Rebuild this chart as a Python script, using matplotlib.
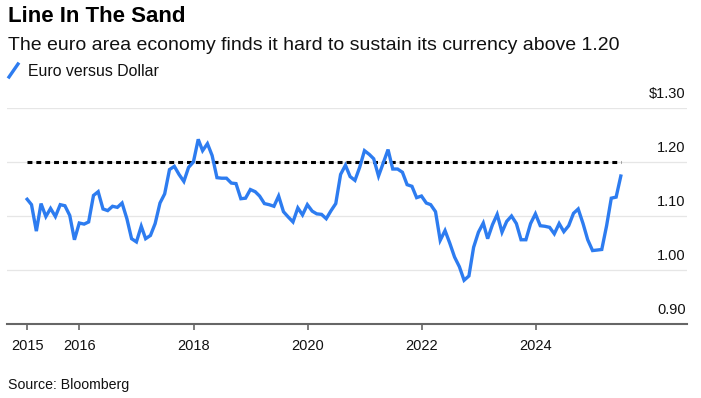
import pandas as pd
import matplotlib
matplotlib.use("Agg")
import matplotlib.pyplot as plt
from matplotlib.lines import Line2D

plt.rcParams['font.family'] = ['Liberation Sans', 'DejaVu Sans']

# month-end EUR/USD, Jan 2015 .. Jun 2025
eurusd = [
    1.131, 1.121, 1.072, 1.123, 1.099, 1.114, 1.099, 1.121, 1.119, 1.101, 1.056, 1.087,  # 2015
    1.085, 1.089, 1.138, 1.145, 1.113, 1.110, 1.118, 1.116, 1.124, 1.095, 1.058, 1.052,  # 2016
    1.081, 1.058, 1.064, 1.086, 1.124, 1.141, 1.186, 1.192, 1.177, 1.164, 1.190, 1.200,  # 2017
    1.242, 1.221, 1.234, 1.212, 1.171, 1.170, 1.170, 1.161, 1.160, 1.132, 1.133, 1.149,  # 2018
    1.145, 1.137, 1.123, 1.121, 1.118, 1.137, 1.108, 1.098, 1.089, 1.115, 1.102, 1.121,  # 2019
    1.109, 1.104, 1.103, 1.095, 1.110, 1.123, 1.177, 1.194, 1.173, 1.166, 1.190, 1.221,  # 2020
    1.214, 1.206, 1.174, 1.198, 1.223, 1.187, 1.187, 1.181, 1.158, 1.155, 1.134, 1.137,  # 2021
    1.124, 1.121, 1.108, 1.055, 1.073, 1.050, 1.024, 1.006, 0.981, 0.989, 1.042, 1.070,  # 2022
    1.087, 1.058, 1.084, 1.103, 1.070, 1.090, 1.100, 1.086, 1.056, 1.056, 1.086, 1.104,  # 2023
    1.082, 1.081, 1.079, 1.067, 1.086, 1.071, 1.082, 1.105, 1.113, 1.086, 1.056, 1.036,  # 2024
    1.037, 1.038, 1.082, 1.133, 1.135, 1.174,                                            # 2025
]
dates = pd.date_range('2015-01-01', periods=len(eurusd), freq='MS') + pd.offsets.MonthEnd(0)

threshold = 1.20
y_levels = [0.90, 1.00, 1.10, 1.20, 1.30]
y_labels = ['0.90', '1.00', '1.10', '1.20', '\\$1.30']
x_years = ['2016-01-01', '2018-01-01', '2020-01-01', '2022-01-01', '2024-01-01']
x_labels = ['2015', '2016', '2018', '2020', '2022', '2024']

blue = '#2d7cf0'
W, H = 701, 398

fig = plt.figure(figsize=(W / 100, H / 100), dpi=100)
ax = fig.add_axes([7 / W, 1 - 324 / H, 680 / W, 216 / H])

# light grid + right side labels sitting above the lines
for yv, lab in zip(y_levels, y_labels):
    if yv > y_levels[0]:
        ax.axhline(yv, color='#e6e6e6', lw=0.9, zorder=0)
    ax.annotate(lab, xy=(1, yv), xycoords=('axes fraction', 'data'),
                xytext=(-1, 7), textcoords='offset points',
                ha='right', va='baseline', fontsize=10.5, color='#111111',
                annotation_clip=False)

# the 1.20 "line in the sand"
ax.hlines(threshold, dates[0], dates[-1], colors='black', lw=2.2,
          linestyles=(0, (1.6, 1.3)), zorder=2)
ax.plot(dates, eurusd, color=blue, lw=2.4, solid_joinstyle='miter', zorder=3)

ax.set_xlim(pd.Timestamp('2014-09-24'), pd.Timestamp('2026-08-28'))
ax.set_ylim(0.90, 1.30)
ax.set_yticks([])
ax.set_xticks([dates[0]] + [pd.Timestamp(d) for d in x_years])
ax.set_xticklabels(x_labels)
ax.tick_params(axis='x', length=4, width=1.2, color='#666666', pad=7,
               labelsize=10.5, labelcolor='#111111')
for s in ['top', 'left', 'right']:
    ax.spines[s].set_visible(False)
ax.spines['bottom'].set_color('#666666')
ax.spines['bottom'].set_linewidth(1.5)

# header texts
fig.text(8 / W, 1 - 17 / H, 'Line In The Sand', fontsize=16, fontweight='bold',
         va='center', ha='left', color='black')
fig.text(8 / W, 1 - 45 / H,
         'The euro area economy finds it hard to sustain its currency above 1.20',
         fontsize=14, va='center', ha='left', color='#111111')
fig.add_artist(Line2D([9 / W, 18 / W], [1 - 77 / H, 1 - 64 / H], color=blue, lw=2.4,
                      transform=fig.transFigure))
fig.text(28 / W, 1 - 71 / H, 'Euro versus Dollar', fontsize=11.4,
         va='center', ha='left', color='#111111')
fig.text(8 / W, 1 - 385 / H, 'Source: Bloomberg', fontsize=10.2,
         va='center', ha='left', color='#111111')

fig.savefig('out.png', dpi=100)
